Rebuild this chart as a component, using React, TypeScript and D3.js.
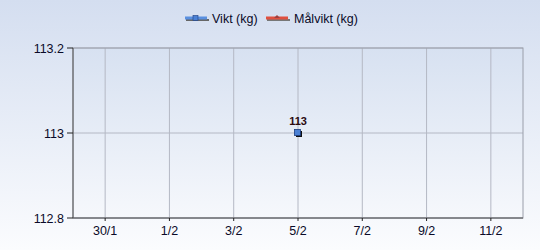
import React from "react";
import * as d3 from "d3";

const xTickLabels = ["30/1", "1/2", "3/2", "5/2", "7/2", "9/2", "11/2"];
const xTickDates = [new Date(2014, 0, 30), new Date(2014, 1, 1), new Date(2014, 1, 3), new Date(2014, 1, 5), new Date(2014, 1, 7), new Date(2014, 1, 9), new Date(2014, 1, 11)];
const yTicks = [112.8, 113, 113.2];
const viktDates = [new Date(2014, 1, 5)];
const viktValues = [113];
const seriesNames = ["Vikt (kg)", "Målvikt (kg)"];

export default function App() {
  const W = 540, H = 250;
  const left = 73, right = 523, top = 48, bottom = 218;
  const x = d3.scaleTime().domain([new Date(2014, 0, 29), new Date(2014, 1, 12)]).range([left, right]);
  const y = d3.scaleLinear().domain([112.8, 113.2]).range([bottom, top]);
  const font = "'Liberation Sans', Arial, sans-serif";
  const txt = "#0a0a28";
  return (
    <div style={{ position: "absolute", left: 0, top: 0 }}>
      <svg width={W} height={H} style={{ display: "block" }}>
        <defs>
          <linearGradient id="bg" x1="0" y1="0" x2="0" y2="1">
            <stop offset="0" stopColor="#d4def0" />
            <stop offset="1" stopColor="#fbfcfe" />
          </linearGradient>
          <linearGradient id="pl" x1="0" y1="0" x2="0" y2="1">
            <stop offset="0" stopColor="#d7e1f1" />
            <stop offset="1" stopColor="#f6f8fc" />
          </linearGradient>
        </defs>
        <rect x={0} y={0} width={W} height={H} fill="url(#bg)" />
        <rect x={left} y={top} width={right - left} height={bottom - top} fill="url(#pl)" />
        {xTickDates.map((d, i) => (
          <line key={"gx" + i} x1={x(d)} x2={x(d)} y1={top} y2={bottom} stroke="#b4b8c4" strokeWidth={1} />
        ))}
        {yTicks.map((v, i) => (
          <line key={"gy" + i} x1={left} x2={right} y1={y(v)} y2={y(v)} stroke="#b4b8c4" strokeWidth={1} />
        ))}
        <rect x={left} y={top} width={right - left} height={bottom - top} fill="none" stroke="#9a9eaa" strokeWidth={1} />
        <line x1={left} x2={left} y1={top} y2={bottom} stroke="#555" />
        <line x1={left} x2={right} y1={bottom} y2={bottom} stroke="#555" />
        {yTicks.map((v, i) => (
          <g key={"yt" + i}>
            <line x1={left - 6} x2={left} y1={y(v)} y2={y(v)} stroke="#222" />
            <text x={left - 9} y={y(v) + 4.5} textAnchor="end" fontFamily={font} fontSize={12.5} fill={txt}>{String(v)}</text>
          </g>
        ))}
        {xTickDates.map((d, i) => (
          <g key={"xt" + i}>
            <line x1={x(d)} x2={x(d)} y1={bottom} y2={bottom + 3} stroke="#222" />
            <text x={x(d)} y={bottom + 17} textAnchor="middle" fontFamily={font} fontSize={12.5} fill={txt}>{xTickLabels[i]}</text>
          </g>
        ))}
        {viktDates.map((d, i) => (
          <g key={"p" + i}>
            <rect x={x(d) - 2} y={y(viktValues[i]) - 2} width={6} height={6} fill="#111" />
            <rect x={x(d) - 3.5} y={y(viktValues[i]) - 3.5} width={6} height={6} fill="#4a80d4" stroke="#1c3c80" strokeWidth={0.8} />
            <text x={x(d)} y={y(viktValues[i]) - 8} textAnchor="middle" fontFamily={font} fontSize={11} fontWeight="bold" fill="#2a0a10">{String(viktValues[i])}</text>
          </g>
        ))}
        {/* legend */}
        <g>
          <rect x={186} y={19} width={23} height={2} fill="#666" />
          <rect x={185} y={16.5} width={22} height={3} fill="#5a90e0" />
          <rect x={193} y={15.5} width={5} height={5} fill="#4a80d4" stroke="#1c3c80" strokeWidth={0.6} />
          <text x={212} y={22.5} fontFamily={font} fontSize={12.5} fill={txt}>{seriesNames[0]}</text>
          <rect x={267} y={19} width={23} height={2} fill="#777" />
          <rect x={266} y={16.5} width={22} height={3} fill="#e05040" />
          <path d="M274,18 L277,15 L280,18 Z" fill="#a04040" />
          <text x={294} y={22.5} fontFamily={font} fontSize={12.5} fill={txt}>{seriesNames[1]}</text>
        </g>
      </svg>
    </div>
  );
}
